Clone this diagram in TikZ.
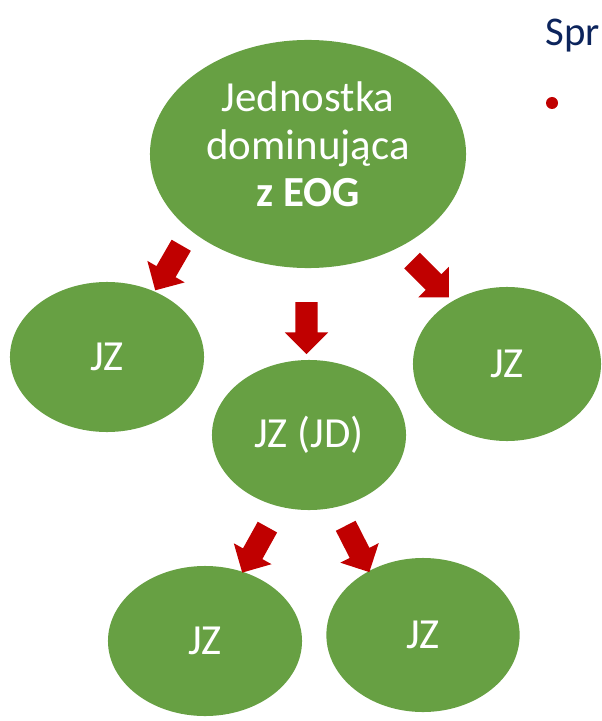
\documentclass[tikz,border=0pt]{standalone}
\usepackage{fontspec}
\setmainfont{Carlito}
\usepackage{tikz}
\usetikzlibrary{shapes.geometric,shapes.arrows}
\definecolor{leaf}{RGB}{103,160,67}
\definecolor{darkred}{RGB}{192,0,0}
\definecolor{navy}{RGB}{12,36,92}

\begin{document}
\begin{tikzpicture}[x=0.025cm, y=-0.025cm, thick,
  main/.style = {ellipse, fill=leaf, text=white, align=center, inner sep=0pt,
                 font=\fontsize{30.5}{33.5}\selectfont},
  down/.style = {single arrow, fill=darkred, inner xsep=0pt, inner ysep=0.2625cm,
                 minimum height=1.3cm, single arrow head extend=0.2625cm,
                 single arrow tip angle=90}]
\useasboundingbox (0,0) rectangle (602,721);
\clip (0,0) rectangle (602,721);
\node[main, minimum width=7.9cm, minimum height=5.7cm, text depth=14pt] (top) at (308,154)
  {Jednostka\\dominująca\\\textbf{z EOG}};
\node[main, minimum width=4.85cm, minimum height=3.75cm] (left) at (107,357) {JZ};
\node[main, minimum width=4.7cm, minimum height=3.85cm] (right) at (507,364) {JZ};
\node[main, minimum width=4.85cm, minimum height=3.75cm] (mid) at (309,435) {JZ (JD)};
\node[main, minimum width=4.85cm, minimum height=3.75cm] (botl) at (205,641) {JZ};
\node[main, minimum width=4.83cm, minimum height=3.85cm] (botr) at (423,635) {JZ};
% block arrows
\node[down, rotate=240] (a1) at (171,263) {};
\node[down, rotate=270] (a2) at (306.5,322.5) {};
\node[down, rotate=315] (a3) at (426.5,275) {};
\node[down, rotate=241] (a4) at (257.5,545) {};
\node[down, rotate=297] (a5) at (355,544) {};
% heading at the side
\node[anchor=base west, inner sep=0pt, text=navy, font=\fontsize{29}{34}\selectfont] (title) at (545,46) {Spr};
\fill[darkred] (552,103) circle (6);
\end{tikzpicture}
\end{document}
